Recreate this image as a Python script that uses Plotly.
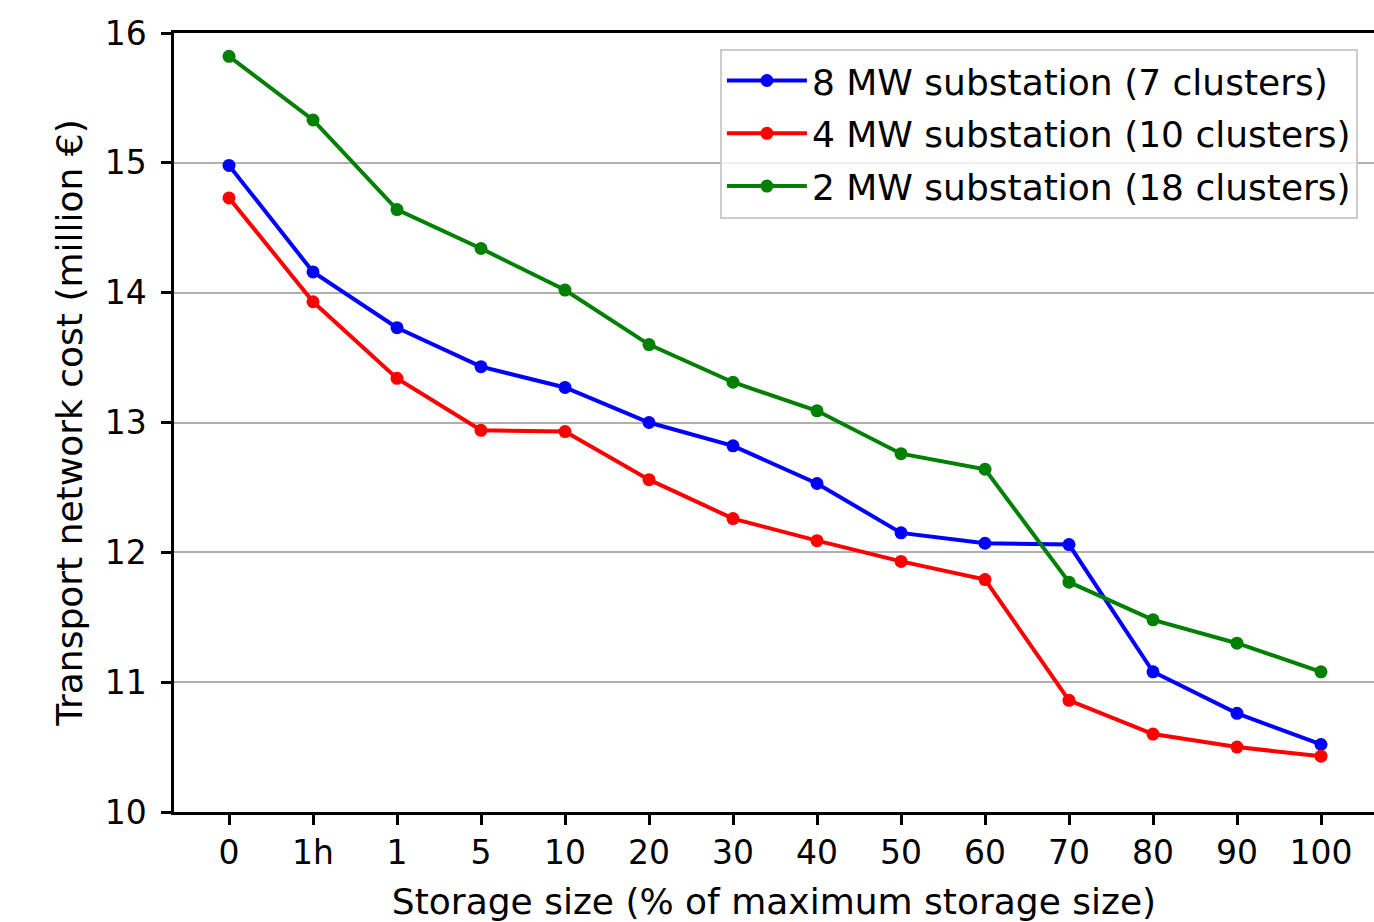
import plotly.graph_objects as go

categories = ["0", "1h", "1", "5", "10", "20", "30", "40", "50", "60", "70", "80", "90", "100"]
mw8 = [14.98, 14.16, 13.73, 13.43, 13.27, 13.00, 12.82, 12.53, 12.15, 12.07, 12.06, 11.08, 10.76, 10.52]
mw4 = [14.73, 13.93, 13.34, 12.94, 12.93, 12.56, 12.26, 12.09, 11.93, 11.79, 10.86, 10.60, 10.50, 10.43]
mw2 = [15.82, 15.33, 14.64, 14.34, 14.02, 13.60, 13.31, 13.09, 12.76, 12.64, 11.77, 11.48, 11.30, 11.08]
names = ["8 MW substation (7 clusters)", "4 MW substation (10 clusters)", "2 MW substation (18 clusters)"]
colors = ["#0000ff", "#ff0000", "#008000"]
y_ticks = [10, 11, 12, 13, 14, 15, 16]

FONT = "DejaVu Sans"
fig = go.Figure()
for i, (vals, name, col) in enumerate(zip([mw8, mw4, mw2], names, colors)):
    fig.add_trace(go.Scatter(
        x=list(range(len(categories))), y=vals, name=name, mode="lines+markers",
        line=dict(color=col, width=4), marker=dict(color=col, size=13),
        legendgroup=f"g{i}",
    ))

fig.update_layout(
    width=1374, height=922,
    margin=dict(l=174, r=0, t=33, b=110),
    paper_bgcolor="white", plot_bgcolor="white",
    font=dict(family=FONT, size=33, color="black"),
    showlegend=True,
    legend=dict(
        x=0.9866, y=0.98, xanchor="right", yanchor="top",
        bgcolor="rgba(255,255,255,0.8)", bordercolor="#cccccc", borderwidth=2,
        font=dict(family=FONT, size=36), tracegroupgap=3, itemwidth=80,
    ),
    xaxis=dict(
        tickmode="array", tickvals=list(range(len(categories))), ticktext=categories,
        range=[-0.655, 13.631], showgrid=False, zeroline=False,
        showline=True, linecolor="black", linewidth=2.5, mirror=True,
        ticks="outside", ticklen=10, tickwidth=2.5, tickcolor="black",
        tickfont=dict(family=FONT, size=33),
        title=dict(text="Storage size (% of maximum storage size)", standoff=18,
                   font=dict(family=FONT, size=36)),
    ),
    yaxis=dict(
        range=[10, 16], tickvals=y_ticks, showgrid=True, gridcolor="#b0b0b0", gridwidth=2,
        zeroline=False, showline=True, linecolor="black", linewidth=2.5,
        ticks="outside", ticklen=10, tickwidth=2.5, tickcolor="black",
        tickfont=dict(family=FONT, size=33), ticklabelstandoff=8,
        title=dict(text="Transport network cost (million €)", standoff=12,
                   font=dict(family=FONT, size=36)),
    ),
)
fig.write_html("out.html")
